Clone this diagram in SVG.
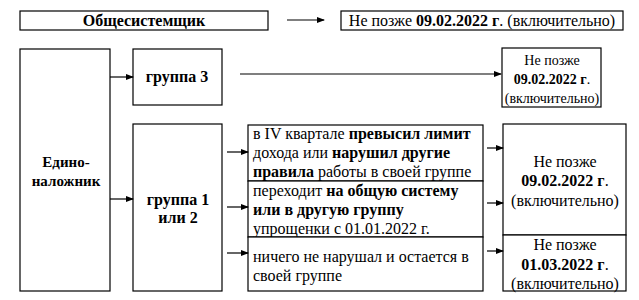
<svg xmlns="http://www.w3.org/2000/svg" width="639" height="300" viewBox="0 0 639 300">
<style>
  .box{fill:#fff;stroke:#000;stroke-width:1.2}
  .c{text-anchor:middle}
  .b{font-weight:bold}
  .ln{stroke:#000;stroke-width:1.2;fill:none;marker-end:url(#ah)}
</style>
<defs>
  <marker id="ah" markerWidth="8" markerHeight="6" refX="7" refY="3" orient="auto" markerUnits="userSpaceOnUse">
    <path d="M0,0 L8,3 L0,6 Z" fill="#000"/>
  </marker>
</defs>
<rect width="639" height="300" fill="#fff"/>
<g font-family="Liberation Serif, Times New Roman, serif" font-size="16" fill="#000">
<g id="obshe">
  <rect class="box" x="20" y="11" width="248" height="19"/>
  <text class="c b" x="144" y="26">Общесистемщик</text>
</g>
<g id="obshe-date">
  <rect class="box" x="341" y="11" width="282" height="19"/>
  <text class="c" x="482" y="26">Не позже <tspan class="b">09.02.2022 г</tspan>. (включительно)</text>
</g>
<g id="edino" font-size="15">
  <rect class="box" x="20" y="49" width="90" height="242"/>
  <text class="c b" x="66" y="167">Едино-</text>
  <text class="c b" x="66" y="186">наложник</text>
</g>
<g id="gr3">
  <rect class="box" x="133" y="49" width="89" height="56"/>
  <text class="c b" x="177" y="82">группа 3</text>
</g>
<g id="gr3-date" font-size="14">
  <rect class="box" x="502" y="48" width="99" height="59"/>
  <text class="c" x="552" y="65">Не позже</text>
  <text class="c" x="552" y="84"><tspan class="b">09.02.2022 г</tspan>.</text>
  <text class="c" x="552" y="103">(включительно)</text>
</g>
<g id="gr12">
  <rect class="box" x="133" y="124" width="89" height="167"/>
  <text class="c b" x="178" y="205">группа 1</text>
  <text class="c b" x="178" y="223">или 2</text>
</g>
<g id="cond1">
  <rect class="box" x="248" y="125" width="235" height="56"/>
  <text x="253" y="139">в IV квартале <tspan class="b">превысил лимит</tspan></text>
  <text x="253" y="158">дохода или <tspan class="b">нарушил другие</tspan></text>
  <text x="253" y="177"><tspan class="b">правила</tspan> работы в своей группе</text>
</g>
<g id="cond2">
  <rect class="box" x="248" y="181" width="235" height="56"/>
  <text x="253" y="196">переходит <tspan class="b">на общую систему</tspan></text>
  <text x="253" y="215"><tspan class="b">или в другую группу</tspan></text>
  <text x="253" y="234">упрощенки с 01.01.2022 г.</text>
</g>
<g id="cond3">
  <rect class="box" x="248" y="237" width="235" height="54"/>
  <text x="253" y="262">ничего не нарушал и остается в</text>
  <text x="253" y="281">своей группе</text>
</g>
<g id="date12">
  <rect class="box" x="503" y="124" width="123" height="111"/>
  <text class="c" x="565" y="167">Не позже</text>
  <text class="c" x="565" y="186"><tspan class="b">09.02.2022 г</tspan>.</text>
  <text class="c" x="565" y="206">(включительно)</text>
</g>
<g id="date3">
  <rect class="box" x="503" y="235" width="123" height="56"/>
  <text class="c" x="565" y="250">Не позже</text>
  <text class="c" x="565" y="270"><tspan class="b">01.03.2022 г</tspan>.</text>
  <text class="c" x="565" y="289">(включительно)</text>
</g>
</g>
<g id="connectors">
  <line class="ln" x1="287" y1="20" x2="324" y2="20"/>
  <line class="ln" x1="110" y1="77" x2="133" y2="77"/>
  <line class="ln" x1="110" y1="199" x2="133" y2="199"/>
  <line class="ln" x1="240" y1="74" x2="501" y2="74"/>
  <line class="ln" x1="227" y1="152" x2="248" y2="152"/>
  <line class="ln" x1="227" y1="207" x2="248" y2="207"/>
  <line class="ln" x1="227" y1="253" x2="248" y2="253"/>
  <line class="ln" x1="487" y1="148" x2="503" y2="148"/>
  <line class="ln" x1="487" y1="203" x2="503" y2="203"/>
  <line class="ln" x1="487" y1="251" x2="503" y2="251"/>
</g>
</svg>
